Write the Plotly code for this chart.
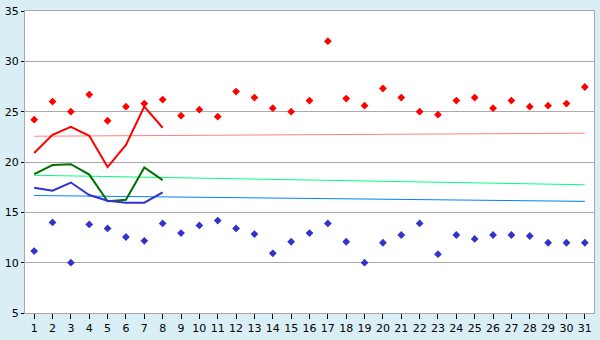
import plotly.graph_objects as go

days = list(range(1, 32))

# daily maxima (red markers)
max_pts = [24.2, 26.0, 25.0, 26.7, 24.1, 25.5, 25.8, 26.2, 24.6, 25.2,
           24.5, 27.0, 26.4, 25.35, 25.0, 26.1, 32.0, 26.3, 25.6, 27.3,
           26.4, 25.0, 24.7, 26.1, 26.4, 25.35, 26.1, 25.5, 25.6, 25.8, 27.45]
# daily minima (blue markers)
min_pts = [11.15, 14.0, 10.0, 13.8, 13.4, 12.55, 12.17, 13.9, 12.94, 13.7,
           14.18, 13.4, 12.84, 10.93, 12.08, 12.94, 13.9, 12.08, 10.0, 11.98,
           12.75, 13.9, 10.84, 12.75, 12.36, 12.75, 12.75, 12.65, 11.98, 11.98, 11.98]

# forecast lines (days 1-8)
line_days = list(range(1, 9))
line_max = [20.9, 22.7, 23.5, 22.6, 19.5, 21.7, 25.5, 23.4]
line_mean = [18.8, 19.7, 19.78, 18.75, 16.1, 16.25, 19.45, 18.2]
line_min = [17.45, 17.15, 17.96, 16.72, 16.15, 15.96, 15.96, 16.98]

# normals (start/end of month)
norm_days = [1, 31]
norm_max = [22.56, 22.86]
norm_mean = [18.68, 17.74]
norm_min = [16.67, 16.09]

y_ticks = [5, 10, 15, 20, 25, 30, 35]

fig = go.Figure()

fig.add_trace(go.Scatter(x=norm_days, y=norm_max, mode="lines",
                         line=dict(color="#FF8080", width=1)))
fig.add_trace(go.Scatter(x=norm_days, y=norm_mean, mode="lines",
                         line=dict(color="#00FF80", width=1)))
fig.add_trace(go.Scatter(x=norm_days, y=norm_min, mode="lines",
                         line=dict(color="#0080FF", width=1)))

fig.add_trace(go.Scatter(x=line_days, y=line_max, mode="lines",
                         line=dict(color="#FF0000", width=2)))
fig.add_trace(go.Scatter(x=line_days, y=line_mean, mode="lines",
                         line=dict(color="#007000", width=2)))
fig.add_trace(go.Scatter(x=line_days, y=line_min, mode="lines",
                         line=dict(color="#3333CC", width=2)))

fig.add_trace(go.Scatter(x=days, y=max_pts, mode="markers",
                         marker=dict(symbol="diamond", size=6, color="#FF0000")))
fig.add_trace(go.Scatter(x=days, y=min_pts, mode="markers",
                         marker=dict(symbol="diamond", size=6, color="#3333CC")))

fig.update_layout(
    width=600, height=340,
    margin=dict(l=20, r=5, t=5, b=20),
    paper_bgcolor="#D9EFF5",
    plot_bgcolor="#FFFFFF",
    showlegend=False,
    font=dict(family="DejaVu Sans", size=11, color="#000000"),
)
fig.update_xaxes(
    range=[0.5, 31.5], tickmode="array", tickvals=days,
    ticktext=[str(d) for d in days],
    showgrid=False, zeroline=False,
    showline=True, linecolor="#A8A8A8", linewidth=1, mirror=True,
    ticks="outside", ticklen=5, tickcolor="#000000",
    tickfont=dict(size=11),
)
fig.update_yaxes(
    range=[5, 35], tickmode="array", tickvals=y_ticks,
    ticktext=[str(v) for v in y_ticks],
    ticklabeloverflow="allow",
    showgrid=True, gridcolor="#AAAAAA", gridwidth=1, zeroline=False,
    showline=True, linecolor="#A8A8A8", linewidth=1, mirror=True,
    ticks="outside", ticklen=3, tickcolor="#000000",
    tickfont=dict(size=11),
)

fig.write_html("out.html")
